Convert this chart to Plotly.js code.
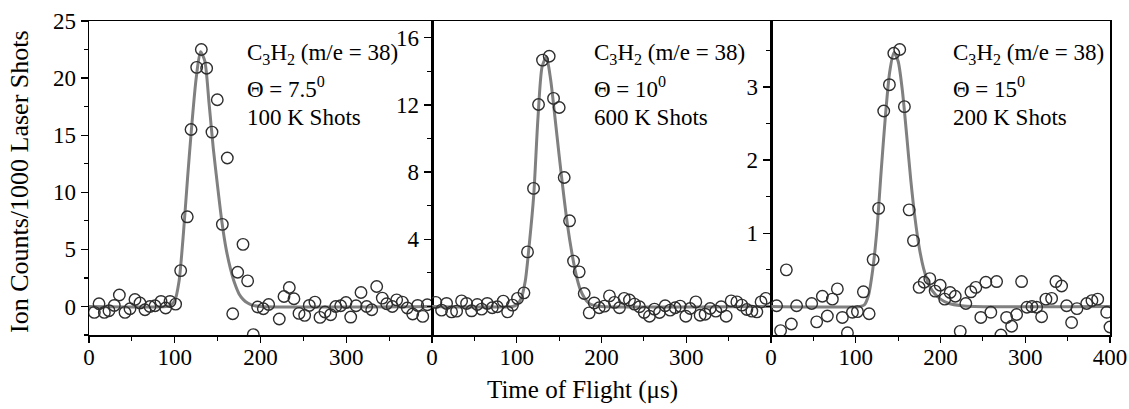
<!DOCTYPE html>
<html>
<head>
<meta charset="utf-8">
<script src="https://cdn.plot.ly/plotly-3.0.1.min.js"></script>
<style>html,body{margin:0;padding:0;background:#fff;}#chart{width:1129px;height:409px;}</style>
</head>
<body>
<div id="chart"></div>
<script>
// ---------- data ----------
// Panel 1: theta = 7.5 deg
const p1T = [6.2, 11.7, 17.9, 23.3, 29.5, 35.4, 42, 47.8, 53.6, 59.5, 65.3, 71.1, 77, 84, 89.4, 94.5, 101, 106.9, 114.6, 119, 125.6, 131, 137.2, 143.4, 149.6, 155.5, 161.3, 167.6, 173.4, 179.6, 185, 191.6, 196.7, 203.3, 209.5, 221.9, 227.4, 233.6, 239, 244.9, 251.5, 256.9, 263.5, 269.4, 275.2, 281.8, 287.7, 293.5, 299.7, 305.2, 311.4, 317.2, 323.8, 329.7, 335.5, 342, 347.2, 353.7, 358.8, 365.4, 371.2, 377.5, 383.3, 389.2, 394.5];
const p1V = [-0.52, 0.24, -0.52, -0.37, 0.09, 1.0, -0.52, -0.2, 0.61, 0.3, -0.29, 0, 0.06, 0.44, -0.14, 0.44, 0.2, 3.14, 7.85, 15.5, 20.94, 22.5, 20.86, 15.27, 18.1, 7.19, 13.0, -0.64, 3.0, 5.44, 2.24, -2.47, -0.05, -0.2, 0.17, -1.1, 0.87, 1.66, 0.67, -0.61, -0.78, 0.09, 0.38, -0.96, -0.49, -0.72, 0, 0.06, 0.35, -0.93, 0.06, 1.22, 0, -0.29, 1.75, 0.73, 0.24, 0, 0.58, 0.38, -0.14, -0.66, 0.09, -0.87, 0.15];
const f1T = [0, 90, 95, 100, 105, 110, 115, 120, 125, 130, 135, 140, 145, 150, 155, 160, 165, 170, 175, 180, 185, 190, 200, 400];
const f1V = [0, 0, 0.1, 0.5, 2.2, 6.3, 11.3, 16.0, 20.0, 22.3, 21.5, 17.8, 13.8, 10.5, 7.4, 5.0, 3.3, 2.0, 1.1, 0.6, 0.3, 0.12, 0, 0];

// Panel 2: theta = 10 deg
const p2T = [4.5, 11.3, 17.2, 23.1, 29, 34.9, 40.8, 46.7, 53.4, 58.5, 65.2, 71.1, 77, 84.1, 89.2, 95, 100.9, 108.5, 112.7, 119.8, 125.7, 130.4, 138.3, 143.4, 150.1, 156, 162.3, 167, 173.7, 179.6, 185.5, 191.4, 197.3, 203.5, 209.4, 215.3, 221.2, 226.8, 233, 238.9, 244.8, 250.4, 256.6, 262.5, 268.4, 275.1, 281, 286.9, 292.8, 299.5, 304.6, 311.3, 316.4, 322.3, 328.2, 334.9, 341.2, 347.1, 353, 359.7, 365.6, 371.5, 377.4, 383.3, 388.3, 393.9];
const p2V = [0.24, -0.22, 0.18, -0.32, -0.28, 0.33, 0.18, -0.26, 0.12, -0.16, 0.18, -0.08, -0.02, 0.32, -0.32, 0.08, 0.48, 0.81, 3.25, 7.03, 12.03, 14.67, 14.9, 12.39, 11.85, 7.68, 5.1, 2.7, 2.06, 0.77, -0.38, 0.21, -0.08, 0.02, 0.63, 0.24, -0.08, 0.48, 0.38, 0.14, -0.02, -0.36, -0.58, -0.16, -0.36, 0.04, -0.22, -0.08, 0.02, -0.58, -0.12, 0.27, -0.52, -0.46, -0.12, -0.28, -0.02, -0.58, 0.33, 0.27, 0.08, -0.18, -0.28, -0.32, 0.27, 0.48];
const f2T = [0, 95, 100, 105, 110, 115, 120, 125, 130, 135, 140, 145, 150, 155, 160, 165, 170, 175, 180, 185, 190, 200, 400];
const f2V = [0, 0, 0.1, 0.45, 1.5, 3.8, 6.6, 11.2, 14.3, 14.85, 13.5, 11.3, 9.0, 6.8, 4.8, 3.2, 1.9, 1.0, 0.5, 0.2, 0.08, 0, 0];

// Panel 3: theta = 15 deg
const p3T = [6.6, 11.3, 18.1, 24, 30.2, 48, 53.9, 60.6, 66.5, 72.4, 78.3, 84.2, 90.2, 96.1, 102, 109, 115.8, 120.5, 127, 133, 139.7, 144.9, 151.9, 157.4, 163, 168.1, 174.8, 180.7, 187.4, 193.7, 199.6, 205, 211.4, 217.4, 223.3, 229.9, 235.9, 241.7, 247.6, 253.5, 259.4, 266.2, 271.3, 278, 283.9, 289.8, 295.7, 302, 307.9, 313.4, 319.3, 324.4, 331.1, 336.2, 342.9, 348.8, 354.7, 361, 372.5, 378.7, 385.5, 396.1, 400];
const p3V = [0.01, -0.33, 0.5, -0.24, 0.01, 0.04, -0.21, 0.14, -0.13, 0.1, 0.24, -0.15, -0.36, -0.08, -0.07, 0.2, -0.1, 0.64, 1.34, 2.67, 3.03, 3.46, 3.51, 2.73, 1.32, 0.9, 0.26, 0.33, 0.38, 0.21, 0.29, 0.1, 0.19, 0.14, -0.34, 0.04, 0.2, 0.26, -0.15, 0.33, -0.08, 0.34, -0.39, -0.15, -0.27, -0.11, 0.34, -0.01, 0, -0.01, -0.14, 0.1, 0.11, 0.34, 0.28, 0.01, -0.22, -0.03, 0.04, 0.08, 0.1, -0.08, -0.28];
const f3T = [0, 105, 110, 115, 120, 125, 130, 135, 140, 145, 150, 155, 160, 165, 170, 175, 180, 185, 190, 200, 210, 225, 240, 400];
const f3V = [0, 0, 0.02, 0.15, 0.5, 1.05, 1.85, 2.6, 3.2, 3.47, 3.35, 2.95, 2.35, 1.72, 1.2, 0.8, 0.52, 0.34, 0.22, 0.1, 0.04, 0.01, 0, 0];

const xTicks12 = [0, 100, 200, 300];
const xTicks3 = [0, 100, 200, 300, 400];
const y1Ticks = [0, 5, 10, 15, 20, 25];
const y2Ticks = [4, 8, 12, 16];
const y3Ticks = [1, 2, 3];

const labels = [
  ['C<sub>3</sub>H<sub>2</sub> (m/e = 38)', 'Θ = 7.5<sup>0</sup>', '100 K Shots'],
  ['C<sub>3</sub>H<sub>2</sub> (m/e = 38)', 'Θ = 10<sup>0</sup>', '600 K Shots'],
  ['C<sub>3</sub>H<sub>2</sub> (m/e = 38)', 'Θ = 15<sup>0</sup>', '200 K Shots']
];
const xTitle = 'Time of Flight (μs)';
const yTitle = 'Ion Counts/1000 Laser Shots';

// ---------- styling ----------
const FONT = 'Liberation Serif, Times New Roman, serif';
const W = 1129, H = 409, ML = 89, MR = 19, MT = 21, MB = 74;
const PW = W - ML - MR, PH = H - MT - MB;
const px = x => (x - ML) / PW;
const py = y => (H - MB - y) / PH;
const d1 = px(432), d2 = px(771);

const markerStyle = {symbol: 'circle-open', size: 11.5, color: '#2e2e2e', line: {width: 1.4, color: '#2e2e2e'}};
const lineStyle = {color: '#808080', width: 3, shape: 'spline', smoothing: 0.7};

const traces = [];
[[f1T, f1V, 'x', 'y'], [f2T, f2V, 'x2', 'y2'], [f3T, f3V, 'x3', 'y3']].forEach(([t, v, xa, ya]) => {
  traces.push({x: t, y: v, xaxis: xa, yaxis: ya, mode: 'lines', line: lineStyle, hoverinfo: 'skip', showlegend: false});
});
[[p1T, p1V, 'x', 'y'], [p2T, p2V, 'x2', 'y2'], [p3T, p3V, 'x3', 'y3']].forEach(([t, v, xa, ya]) => {
  traces.push({x: t, y: v, xaxis: xa, yaxis: ya, mode: 'markers', marker: markerStyle, showlegend: false});
});

const tickFont = {family: FONT, size: 23, color: '#000'};
function xAx(domain, tv, anchor) {
  return {domain, range: [0, 400], anchor, tickmode: 'array', tickvals: tv, ticks: 'outside', ticklen: 6, tickwidth: 1.3,
    tickcolor: '#000', showline: true, linewidth: 1.5, linecolor: '#000', mirror: true, showgrid: false, zeroline: false,
    ticklabelstandoff: -5,
    tickfont: tickFont, minor: {dtick: 50, tick0: 0, ticks: 'outside', ticklen: 4, tickwidth: 1.2, tickcolor: '#000', showgrid: false}};
}
function yAx(range, tv, mdt, anchor) {
  return {range, anchor, tickmode: 'array', tickvals: tv, ticks: 'outside', ticklen: 7, tickwidth: 1.3,
    tickcolor: '#000', showline: true, linewidth: 1.5, linecolor: '#000', mirror: true, showgrid: false, zeroline: false,
    tickfont: tickFont, minor: {dtick: mdt, tick0: 0, ticks: 'outside', ticklen: 4, tickwidth: 1.2, tickcolor: '#000', showgrid: false}};
}

const annFont = {family: FONT, size: 23, color: '#000'};
const annotations = [];
const annX = [245, 591.7, 950.7];
const annY = [54, 88, 117];
labels.forEach((lines, i) => {
  lines.forEach((txt, j) => {
    annotations.push({text: txt, xref: 'paper', yref: 'paper', x: px(annX[i]), y: py(annY[j]),
      xanchor: 'left', yanchor: 'middle', showarrow: false, font: annFont});
  });
});
annotations.push({text: xTitle, xref: 'paper', yref: 'paper', x: px(582), y: py(390), xanchor: 'center', yanchor: 'middle',
  showarrow: false, font: {family: FONT, size: 25, color: '#000'}});
annotations.push({text: yTitle, xref: 'paper', yref: 'paper', x: px(19), y: py(182), xanchor: 'center', yanchor: 'middle',
  textangle: -90, showarrow: false, font: {family: FONT, size: 26, color: '#000'}});

const layout = {
  width: W, height: H, autosize: false,
  margin: {l: ML, r: MR, t: MT, b: MB, pad: 0},
  paper_bgcolor: '#fff', plot_bgcolor: '#fff',
  font: {family: FONT, color: '#000'},
  showlegend: false,
  xaxis: xAx([0, d1], xTicks12, 'y'),
  xaxis2: xAx([d1, d2], xTicks12, 'y2'),
  xaxis3: xAx([d2, 1], xTicks3, 'y3'),
  yaxis: yAx([-2.5, 25], y1Ticks, 2.5, 'x'),
  yaxis2: yAx([-1.7, 17], y2Ticks, 2, 'x2'),
  yaxis3: yAx([-0.39, 3.9], y3Ticks, 0.5, 'x3'),
  annotations
};

Plotly.newPlot('chart', traces, layout, {displayModeBar: false, staticPlot: true});
</script>
</body>
</html>
